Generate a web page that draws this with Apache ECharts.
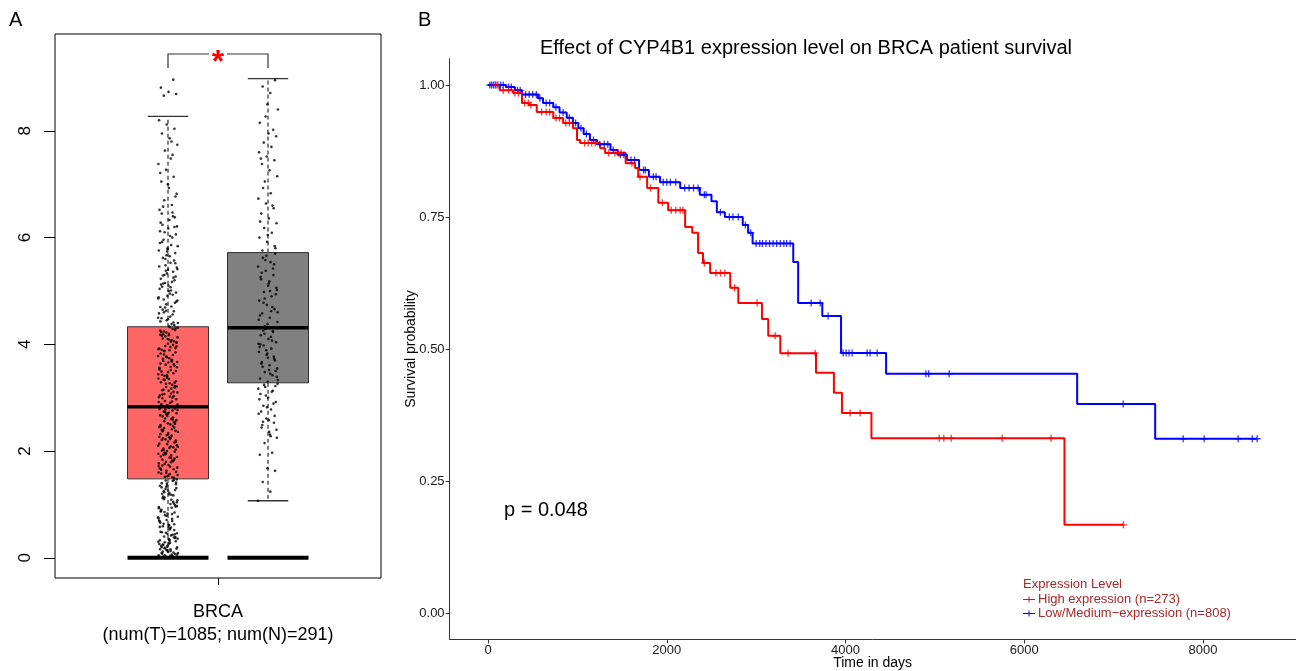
<!DOCTYPE html>
<html><head><meta charset="utf-8">
<script src="https://cdn.jsdelivr.net/npm/echarts@6/dist/echarts.min.js"></script>
<style>html,body{margin:0;padding:0;background:#fff}#c{width:1296px;height:671px}</style>
</head><body><div id="c"></div>
<script>
// ---------- Panel A data ----------
const groupCategory = 'BRCA';
const groupCounts = {tumor: 1085, normal: 291};
const boxPos = [-0.5, 0.5];
// [lowerWhisker, q1, median, q3, upperWhisker]
const tumorStats = [0, 1.48, 2.83, 4.33, 8.27];
const normalStats = [1.07, 3.28, 4.31, 5.72, 8.98];
const boxColors = ['#FF6666', '#808080'];
const yTicksA = [0, 2, 4, 6, 8];
const sigBracket = [-0.5, 0.5, 9.44, 9.18];
const sigLabel = '*';

const tumorValues = [
0.01,0.04,0.12,0.07,0.21,0.33,0.02,0.18,0.46,0.27,0.09,0.38,0.15,0.05,0.42,0.24,0.31,0.11,0.49,0.03,0.19,0.36,0.28,0.08,0.44,0.14,0.26,0.06,0.4,0.17,0.35,0.22,0.1,0.47,0.3,0.13,0.02,0.39,0.23,0.16,0.43,0.29,0.06,0.34,0.2,
0.52,0.71,0.93,1.18,0.64,1.41,0.58,0.87,1.05,1.29,0.77,0.55,1.12,0.99,1.36,0.68,0.82,1.23,1.47,0.61,0.9,1.02,1.33,0.74,0.57,1.15,0.96,1.26,0.66,1.44,0.8,1.08,0.53,1.2,0.85,1.39,0.7,0.94,1.1,1.31,0.62,0.88,1.17,1.45,0.76,1.01,0.59,1.27,0.83,1.35,0.69,1.13,0.97,1.22,1.4,
1.5,1.63,1.77,1.92,2.05,2.2,2.34,2.49,2.63,2.78,1.55,1.71,1.84,1.99,2.13,2.27,2.41,2.56,2.71,2.81,1.58,1.66,1.8,1.95,2.09,2.24,2.38,2.52,2.67,2.76,1.52,1.69,1.88,2.01,2.16,2.3,2.45,2.6,2.74,1.61,1.74,1.9,2.07,2.22,2.36,2.5,2.65,2.8,1.53,1.68,1.82,1.97,2.11,2.26,2.4,2.54,2.69,1.6,1.79,1.93,2.03,2.18,2.32,2.47,2.61,2.77,1.57,1.73,1.86,2.0,2.14,2.29,2.43,2.58,2.72,1.65,1.83,1.96,2.1,2.25,2.39,2.55,2.7,2.82,1.51,1.76,1.89,2.06,2.21,2.44,
2.85,3.01,3.17,3.34,3.5,3.66,3.83,3.99,4.15,4.31,2.9,3.06,3.22,3.39,3.55,3.71,3.88,4.04,4.2,2.88,3.03,3.2,3.36,3.52,3.69,3.85,4.01,4.18,4.29,2.94,3.1,3.27,3.43,3.6,3.76,3.92,4.08,4.24,2.97,3.13,3.29,3.46,3.62,3.78,3.95,4.11,4.27,2.86,3.04,3.24,3.41,3.57,3.74,3.9,4.06,4.22,2.92,3.08,3.15,3.31,3.48,3.64,3.8,3.97,4.13,4.32,2.99,3.19,3.37,3.53,3.7,3.87,4.03,4.17,2.84,3.11,3.26,3.44,3.58,3.73,3.93,4.1,4.26,3.0,3.33,3.67,3.89,4.16,
4.36,4.45,4.58,4.71,4.84,4.97,5.1,5.23,5.36,5.48,4.4,4.52,4.65,4.78,4.91,5.04,5.17,5.3,5.44,4.34,4.49,4.62,4.75,4.88,5.01,5.14,5.27,5.4,4.43,4.56,4.69,4.82,4.95,5.08,5.2,5.33,5.46,4.38,4.6,4.8,5.0,5.12,5.25,5.38,4.5,
5.53,5.62,5.71,5.8,5.9,6.0,6.1,6.21,6.33,6.45,5.57,5.67,5.76,5.86,5.96,6.06,6.17,6.28,6.4,5.6,5.84,6.03,6.24,6.38,5.74,
6.52,6.61,6.7,6.82,6.93,7.05,7.14,7.27,7.38,7.48,6.58,6.77,7.0,7.21,
7.55,7.63,7.74,7.86,7.95,8.04,8.12,8.2,7.8,
8.66,8.69,8.73,8.81,8.96,
0.03,0.09,0.16,0.25,0.37,0.45,0.58,0.73,0.86,1.04,1.19,1.32,1.46,1.59,1.72,1.87,2.02,2.17,2.31,2.46,2.59,2.73,2.87,3.02,3.14,3.28,3.42,3.56,3.68,3.81,3.96,4.09,4.23,4.41,4.63,4.86,5.07,5.29,5.52,5.78,6.12,6.47,
0.05,0.2,0.32,0.48,0.63,0.79,0.95,1.09,1.25,1.38,1.54,1.67,1.81,1.94,2.08,2.23,2.37,2.51,2.66,2.79,2.93,3.07,3.21,3.35,3.49,3.63,3.77,3.91,4.05,4.19,4.3,4.47,4.7,4.93,5.15,5.41,5.65,5.92,6.2
];
const normalValues = [
1.07,1.24,1.42,1.63,1.68,1.93,1.97,2.15,
2.25,2.36,2.44,2.53,2.61,2.7,2.78,2.85,2.92,3.0,3.07,3.13,3.2,3.26,2.31,2.49,2.66,2.82,2.97,3.11,3.24,2.4,2.58,2.74,2.89,3.04,3.17,2.28,2.55,3.22,
3.3,3.36,3.42,3.48,3.55,3.61,3.67,3.73,3.8,3.86,3.92,3.98,4.04,4.1,4.17,4.23,4.29,3.33,3.45,3.58,3.7,3.83,3.95,4.07,4.2,3.39,3.52,3.64,3.77,3.89,4.01,4.14,4.26,3.5,3.75,4.0,4.25,
4.34,4.42,4.5,4.58,4.66,4.74,4.82,4.9,4.98,5.06,5.14,5.22,5.3,5.38,5.46,5.54,5.62,5.7,4.38,4.54,4.7,4.86,5.02,5.18,5.34,5.5,5.66,4.46,4.62,4.78,4.94,5.1,5.26,5.42,5.58,4.6,5.0,
5.76,5.84,5.92,6.0,6.09,6.18,6.27,6.36,6.45,6.55,6.64,6.73,6.83,6.93,5.8,6.05,6.3,6.6,
7.05,7.15,7.26,7.38,7.45,7.52,7.6,7.7,7.78,7.9,7.95,7.48,
8.02,8.27,8.4,8.71,8.83,8.95,8.5,8.15
];

// ---------- Panel B data ----------
const kmTitle = 'Effect of CYP4B1 expression level on BRCA patient survival';
const highName = 'High expression (n=273)';
const lowName = 'Low/Medium\u2212expression (n=808)';
const pValueText = 'p = 0.048';
const xTicksB = [0, 2000, 4000, 6000, 8000];
const yTicksB = [0, 0.25, 0.5, 0.75, 1];

const redTimes = [0,130,280,380,460,545,730,840,950,995,1030,1255,1310,1540,1645,1680,1780,1905,2015,2205,2285,2350,2405,2485,2710,2800,3065,3135,3270,3670,3870,3960,4290,6450];
const redSurv  = [1,0.99,0.985,0.966,0.962,0.949,0.9375,0.928,0.918,0.896,0.89,0.88,0.871,0.852,0.843,0.826,0.805,0.777,0.763,0.731,0.72,0.682,0.663,0.644,0.616,0.587,0.557,0.525,0.492,0.455,0.417,0.379,0.331,0.167];
const redEnd = 7110;
const redCensor = [90,170,230,300,340,410,450,480,600,650,690,760,800,870,910,1080,1120,1160,1200,1350,1420,1460,1490,1610,1700,1820,1950,2050,2100,2150,2180,2420,2550,2600,2650,2760,3010,3212,3357,3660,4051,4163,5048,5100,5182,5753,6300,7110];

const blueTimes = [0,200,300,380,560,615,730,800,880,950,1010,1070,1140,1220,1370,1450,1555,1690,1800,1925,2150,2370,2500,2560,2650,2850,2910,2960,3415,3470,3740,3950,4454,6592,7465];
const blueSurv  = [1,0.996,0.99,0.982,0.975,0.966,0.958,0.948,0.938,0.928,0.918,0.907,0.896,0.888,0.877,0.868,0.858,0.839,0.826,0.816,0.805,0.792,0.78,0.759,0.75,0.735,0.72,0.70,0.665,0.587,0.5625,0.4924,0.453,0.396,0.33];
const blueEnd = 8606;
const blueCensor = [20,40,60,80,110,140,170,230,260,330,360,420,460,500,540,580,650,690,760,840,910,980,1040,1100,1180,1250,1300,1340,1400,1480,1520,1600,1640,1740,1760,1850,1880,1960,2000,2040,2100,2200,2250,2300,2350,2420,2440,2600,2700,2740,2800,2880,2940,3000,3040,3070,3110,3150,3190,3230,3270,3310,3340,3380,3615,3716,3805,3973,4007,4040,4074,4242,4275,4354,4900,4930,5160,7107,7778,8013,8394,8551,8606];

// ---------- build ----------
const FONT = '"Liberation Sans", Arial, Helvetica, sans-serif';
const PLUS = 'path://M-3,-0.55L3,-0.55L3,0.55L-3,0.55Z M-0.55,-3L0.55,-3L0.55,3L-0.55,3Z';
const boxHalf = 0.405;

function jitter(vals, pos) {
  return vals.map((v, i) => [pos + (((i * 0.6180339887) % 1) - 0.5) * 0.2, v]);
}
function stepData(times, surv, end) {
  const d = times.map((t, i) => [t, surv[i]]);
  d.push([end, surv[surv.length - 1]]);
  return d;
}
function survAt(t, times, surv) {
  let s = surv[0];
  for (let i = 0; i < times.length; i++) { if (times[i] <= t) s = surv[i]; }
  return s;
}
function censorData(c, times, surv) { return c.map(t => [t, survAt(t, times, surv)]); }

function renderBox(params, api) {
  const x = api.value(0), lw = api.value(1), q1 = api.value(2), med = api.value(3), q3 = api.value(4), uw = api.value(5);
  const c = (a, b) => api.coord([a, b]);
  const color = boxColors[params.dataIndex];
  const tl = c(x - boxHalf, q3), br = c(x + boxHalf, q1);
  const cx = c(x, 0)[0];
  const capL = c(x - boxHalf / 2, 0)[0], capR = c(x + boxHalf / 2, 0)[0];
  const yUw = c(x, uw)[1], yLw = c(x, lw)[1], yQ1 = br[1], yQ3 = tl[1], yMed = c(x, med)[1], y0 = c(x, 0)[1];
  const ws = {stroke: '#000', lineWidth: 1, lineDash: [4, 3]};
  const cs = {stroke: '#333', lineWidth: 1.3};
  return {type: 'group', children: [
    {type: 'line', shape: {x1: cx, y1: yQ3, x2: cx, y2: yUw}, style: ws},
    {type: 'line', shape: {x1: cx, y1: yQ1, x2: cx, y2: yLw}, style: ws},
    {type: 'line', shape: {x1: capL, y1: yUw, x2: capR, y2: yUw}, style: cs},
    {type: 'line', shape: {x1: capL, y1: yLw, x2: capR, y2: yLw}, style: cs},
    {type: 'rect', shape: {x: tl[0], y: yQ3, width: br[0] - tl[0], height: yQ1 - yQ3}, style: {fill: color, stroke: '#333', lineWidth: 1}},
    {type: 'line', shape: {x1: tl[0], y1: yMed, x2: br[0], y2: yMed}, style: {stroke: '#000', lineWidth: 3.5}},
    {type: 'line', shape: {x1: tl[0], y1: y0, x2: br[0], y2: y0}, style: {stroke: '#000', lineWidth: 4}, z2: 50}
  ]};
}
function renderBracket(params, api) {
  const l = api.coord([api.value(0), api.value(2)]);
  const r = api.coord([api.value(1), api.value(2)]);
  const yb = api.coord([0, api.value(3)])[1];
  const mid = (l[0] + r[0]) / 2;
  const st = {stroke: '#333', lineWidth: 1.2, fill: null};
  return {type: 'group', children: [
    {type: 'polyline', shape: {points: [[l[0], yb], [l[0], l[1]], [mid - 9, l[1]]]}, style: st},
    {type: 'polyline', shape: {points: [[mid + 9, r[1]], [r[0], r[1]], [r[0], yb]]}, style: st},
    {type: 'text', x: mid, y: l[1] + 9, style: {text: sigLabel, fill: '#FF0000', font: 'bold 32px ' + FONT, align: 'center', verticalAlign: 'middle'}}
  ]};
}

const chart = echarts.init(document.getElementById('c'), null, {renderer: 'canvas'});
const option = {
  backgroundColor: '#fff',
  animation: false,
  textStyle: {fontFamily: FONT},
  title: {text: kmTitle, left: 801, top: 33, textAlign: 'center',
    textStyle: {fontSize: 20, fontWeight: 'normal', color: '#000', fontFamily: FONT}},
  graphic: [
    {type: 'text', left: 9, top: 10, style: {text: 'A', font: '20px ' + FONT, fill: '#000'}},
    {type: 'text', left: 418, top: 10, style: {text: 'B', font: '20px ' + FONT, fill: '#000'}},
    {type: 'text', left: 504, top: 500, style: {text: pValueText, font: '20px ' + FONT, fill: '#000'}},
    {type: 'text', left: 1023, top: 578, style: {text: 'Expression Level', font: '13px ' + FONT, fill: '#A52A2A'}}
  ],
  legend: {
    orient: 'vertical', left: 1023, top: 593, padding: 0, itemGap: 1,
    itemWidth: 12, itemHeight: 8,
    textStyle: {fontSize: 13, color: '#A52A2A', fontFamily: FONT, padding: [0, 0, 0, -2]},
    data: [
      {name: highName, icon: 'path://M0,4.5L12,4.5L12,5.6L0,5.6Z M5.5,2L6.5,2L6.5,8L5.5,8Z'},
      {name: lowName, icon: 'path://M0,4.5L12,4.5L12,5.6L0,5.6Z M5.5,2L6.5,2L6.5,8L5.5,8Z'}
    ]
  },
  grid: [
    {left: 55, top: 34, width: 326, height: 544, show: true, borderColor: '#000', borderWidth: 1, backgroundColor: 'transparent', outerBoundsMode: 'none'},
    {left: 449.6, top: 58.6, width: 846, height: 580.8, outerBoundsMode: 'none'}
  ],
  xAxis: [
    {gridIndex: 0, type: 'value', min: -1.63, max: 1.63,
      axisLine: {show: false, onZero: false}, splitLine: {show: false},
      axisTick: {show: true, length: 7, customValues: [0], lineStyle: {color: '#000'}},
      axisLabel: {customValues: [0], margin: 23, fontSize: 18, lineHeight: 23, color: '#000',
        formatter: () => groupCategory + '\n(num(T)=' + groupCounts.tumor + '; num(N)=' + groupCounts.normal + ')'}},
    {gridIndex: 1, type: 'value', min: -430.3, max: 9036.3,
      axisLine: {show: true, onZero: false, lineStyle: {color: '#333', width: 1}}, splitLine: {show: false},
      axisTick: {show: true, length: 4, customValues: xTicksB, lineStyle: {color: '#333'}},
      axisLabel: {customValues: xTicksB, margin: 5, fontSize: 13, color: '#1a1a1a', formatter: v => String(v)},
      name: 'Time in days', nameLocation: 'middle', nameGap: 17, nameMoveOverlap: false,
      nameTextStyle: {fontSize: 14, color: '#000', verticalAlign: 'top'}}
  ],
  yAxis: [
    {gridIndex: 0, type: 'value', min: -0.3775, max: 9.815,
      axisLine: {show: false, onZero: false}, splitLine: {show: false},
      axisTick: {show: true, length: 11, customValues: yTicksA, lineStyle: {color: '#000'}},
      axisLabel: {customValues: yTicksA, rotate: 90, margin: 21, fontSize: 17, color: '#000'}},
    {gridIndex: 1, type: 'value', min: -0.05, max: 1.05,
      axisLine: {show: true, onZero: false, lineStyle: {color: '#333', width: 1}}, splitLine: {show: false},
      axisTick: {show: true, length: 4, customValues: yTicksB, lineStyle: {color: '#333'}},
      axisLabel: {customValues: yTicksB, margin: 5, fontSize: 13, color: '#1a1a1a', formatter: v => v.toFixed(2)},
      name: 'Survival probability', nameLocation: 'middle', nameGap: 31, nameMoveOverlap: false,
      nameTextStyle: {fontSize: 14, color: '#000'}}
  ],
  series: [
    {type: 'custom', xAxisIndex: 0, yAxisIndex: 0, renderItem: renderBox, clip: false, silent: true, z: 2,
      data: [[boxPos[0]].concat(tumorStats), [boxPos[1]].concat(normalStats)]},
    {type: 'scatter', xAxisIndex: 0, yAxisIndex: 0, silent: true, z: 3, symbol: 'circle', symbolSize: 2.6,
      itemStyle: {color: '#000'}, data: jitter(tumorValues, boxPos[0])},
    {type: 'scatter', xAxisIndex: 0, yAxisIndex: 0, silent: true, z: 3, symbol: 'circle', symbolSize: 2.6,
      itemStyle: {color: '#000'}, data: jitter(normalValues, boxPos[1])},
    {type: 'custom', xAxisIndex: 0, yAxisIndex: 0, renderItem: renderBracket, clip: false, silent: true, z: 4,
      data: [sigBracket]},
    {name: highName, type: 'line', xAxisIndex: 1, yAxisIndex: 1, step: 'end', showSymbol: false, symbol: 'none',
      lineStyle: {color: '#FF0000', width: 2}, itemStyle: {color: '#FF0000'}, data: stepData(redTimes, redSurv, redEnd), z: 5},
    {name: lowName, type: 'line', xAxisIndex: 1, yAxisIndex: 1, step: 'end', showSymbol: false, symbol: 'none',
      lineStyle: {color: '#0000FF', width: 2}, itemStyle: {color: '#0000FF'}, data: stepData(blueTimes, blueSurv, blueEnd), z: 4},
    {type: 'scatter', xAxisIndex: 1, yAxisIndex: 1, silent: true, symbol: PLUS, symbolSize: 7, z: 6,
      itemStyle: {color: '#FF0000'}, data: censorData(redCensor, redTimes, redSurv)},
    {type: 'scatter', xAxisIndex: 1, yAxisIndex: 1, silent: true, symbol: PLUS, symbolSize: 7, z: 5,
      itemStyle: {color: '#0000FF'}, data: censorData(blueCensor, blueTimes, blueSurv)}
  ]
};
chart.setOption(option);
</script></body></html>
